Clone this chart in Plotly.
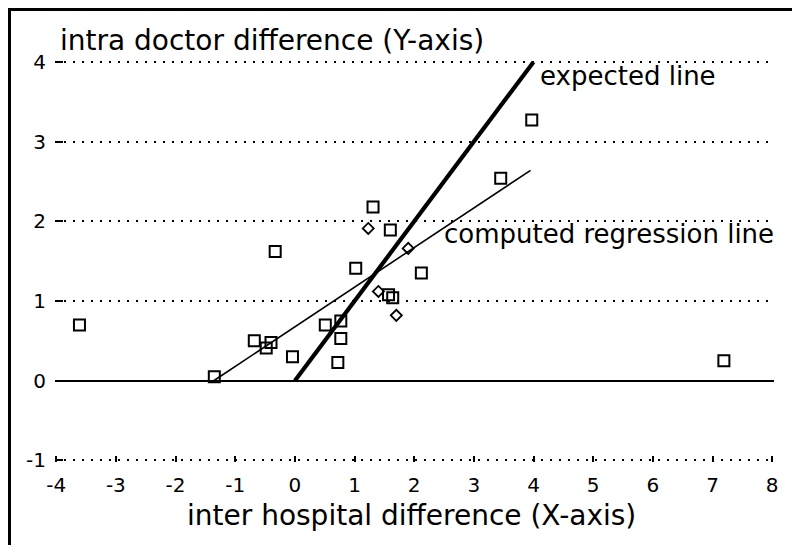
import plotly.graph_objects as go

# ---- data ----
square_x = [-3.61, -1.35, -0.68, -0.40, -0.48, -0.04, -0.33, 0.51, 0.77, 0.77,
            0.72, 1.02, 1.31, 1.60, 2.12, 1.57, 1.64, 3.97, 3.45, 7.19]
square_y = [0.70, 0.05, 0.50, 0.48, 0.41, 0.30, 1.62, 0.70, 0.75, 0.53,
            0.23, 1.41, 2.18, 1.89, 1.35, 1.08, 1.04, 3.27, 2.54, 0.25]
diamond_x = [1.23, 1.90, 1.40, 1.70]
diamond_y = [1.91, 1.66, 1.12, 0.82]
expected_x = [0, 4]
expected_y = [0, 4]
regression_x = [-1.36, 3.95]
regression_y = [0.0, 2.64]
x_ticks = list(range(-4, 9))
x_ticktext = [str(v) for v in x_ticks]
y_ticks = [-1, 0, 1, 2, 3, 4]
y_ticktext = [str(v) for v in y_ticks]

FONT = "DejaVu Sans"
OFF = 8  # default page body margin of the written html
W, H = 800 - 2 * OFF, 553 - 2 * OFF
ML, MR, MT, MB = 47, 18, 30, 83
PW, PH = W - ML - MR, H - MT - MB


def px_x(p):
    # p: page pixel -> paper coordinate
    return (p - OFF - ML) / PW


def px_y(p):
    return (H - MB - (p - OFF)) / PH


fig = go.Figure()
fig.add_trace(go.Scatter(x=regression_x, y=regression_y, mode="lines",
                         line=dict(color="black", width=1.6), hoverinfo="skip"))
fig.add_trace(go.Scatter(x=expected_x, y=expected_y, mode="lines",
                         line=dict(color="black", width=4.2), hoverinfo="skip"))
fig.add_trace(go.Scatter(x=square_x, y=square_y, mode="markers",
                         marker=dict(symbol="square-open", size=11, color="black",
                                     line=dict(width=2, color="black"))))
fig.add_trace(go.Scatter(x=diamond_x, y=diamond_y, mode="markers",
                         marker=dict(symbol="diamond-open", size=8.5, color="black",
                                     line=dict(width=1.8, color="black"))))

fig.update_layout(
    width=W, height=H,
    margin=dict(l=ML, r=MR, t=MT, b=MB),
    paper_bgcolor="white", plot_bgcolor="white",
    showlegend=False,
    font=dict(family=FONT, color="black", size=20),
    xaxis=dict(range=[-4.02, 8.03], tickmode="array", tickvals=x_ticks,
               ticktext=x_ticktext,
               ticks="inside", ticklen=6, tickwidth=1.5, tickcolor="black",
               showgrid=False, zeroline=False, showline=False,
               ticklabelstandoff=9, tickfont=dict(size=20, family=FONT)),
    yaxis=dict(range=[-1.02, 4.3], tickmode="array", tickvals=y_ticks,
               ticktext=y_ticktext,
               ticks="inside", ticklen=8, tickwidth=2, tickcolor="black",
               showgrid=True, gridcolor="black", gridwidth=2, griddash="2px,7px",
               zeroline=True, zerolinecolor="black", zerolinewidth=2.2,
               showline=False, ticklabelstandoff=8,
               tickfont=dict(size=20, family=FONT)),
    annotations=[
        dict(text="intra doctor difference (Y-axis)", xref="paper", yref="paper",
             x=px_x(58), y=px_y(41), xanchor="left", yanchor="middle",
             showarrow=False, font=dict(size=28, family=FONT)),
        dict(text="inter hospital difference (X-axis)", xref="paper", yref="paper",
             x=px_x(411), y=px_y(516), xanchor="center", yanchor="middle",
             showarrow=False, font=dict(size=28, family=FONT)),
        dict(text="expected line", xref="x", yref="y", x=4.07, y=3.82,
             xanchor="left", yanchor="middle", showarrow=False,
             font=dict(size=26, family=FONT)),
        dict(text="computed regression line", xref="x", yref="y", x=2.47, y=1.84,
             xanchor="left", yanchor="middle", showarrow=False,
             font=dict(size=26, family=FONT)),
    ],
    shapes=[
        dict(type="rect", xref="paper", yref="paper",
             x0=px_x(9.5), x1=px_x(820), y0=px_y(580), y1=px_y(9.5),
             line=dict(color="black", width=3), layer="above"),
    ],
)

fig.write_html("out.html")
